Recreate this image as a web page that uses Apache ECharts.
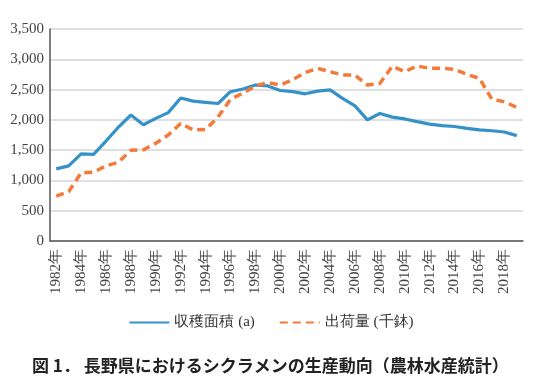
<!DOCTYPE html>
<html><head><meta charset="utf-8">
<script src="https://cdn.jsdelivr.net/npm/echarts@6/dist/echarts.min.js"></script>
<style>html,body{margin:0;padding:0;background:#fff}#c{width:542px;height:381px}</style>
</head><body><div id="c"></div>
<script>
const years = ['1982年','1983年','1984年','1985年','1986年','1987年','1988年','1989年','1990年','1991年','1992年','1993年','1994年','1995年','1996年','1997年','1998年','1999年','2000年','2001年','2002年','2003年','2004年','2005年','2006年','2007年','2008年','2009年','2010年','2011年','2012年','2013年','2014年','2015年','2016年','2017年','2018年','2019年'];
const area = [1190,1240,1440,1430,1650,1880,2080,1920,2025,2120,2360,2310,2290,2270,2465,2510,2575,2560,2485,2465,2430,2475,2495,2355,2230,2000,2105,2045,2015,1970,1930,1905,1890,1860,1835,1820,1800,1740];
const shipment = [740,815,1125,1135,1240,1300,1500,1505,1615,1750,1940,1835,1840,2045,2340,2440,2560,2615,2575,2665,2780,2850,2795,2740,2740,2575,2600,2885,2795,2890,2850,2850,2835,2750,2685,2340,2300,2205];
const yTicks = {min:0, max:3500, interval:500};
const names = ['収穫面積 (a)','出荷量 (千鉢)'];
const caption = '図 1． 長野県におけるシクラメンの生産動向（農林水産統計）';

const chart = echarts.init(document.getElementById('c'), null, {renderer:'canvas'});
const serif = "Liberation Serif";
chart.setOption({
  animation:false,
  backgroundColor:'#fff',
  title:{text:caption,left:27,top:352,textStyle:{fontFamily:"Noto Sans CJK JP",fontSize:17,fontWeight:'bold',color:'#222'}},
  grid:{left:50,right:19,top:29,bottom:140},
  legend:{bottom:46,left:'center',itemGap:24,itemWidth:40,itemHeight:2,
    itemStyle:{opacity:0,borderWidth:0},
    textStyle:{fontFamily:serif,fontSize:15,color:'#333'},data:names},
  xAxis:{type:'category',data:years,boundaryGap:true,
    axisLine:{lineStyle:{color:'#555',width:1.5}},axisTick:{show:false},
    axisLabel:{rotate:90,interval:1,fontFamily:serif,fontSize:15,color:'#444',margin:8}},
  yAxis:{type:'value',min:yTicks.min,max:yTicks.max,interval:yTicks.interval,
    axisLine:{show:true,lineStyle:{color:'#555',width:1.5}},axisTick:{show:false},
    splitLine:{lineStyle:{color:'#d6d6d6',width:1.5}},
    axisLabel:{fontFamily:serif,fontSize:15,color:'#444',margin:6,
      formatter:v=>v.toLocaleString('en-US')}},
  series:[
    {name:names[0],type:'line',data:area,symbol:'none',
      lineStyle:{color:'#3592c8',width:3.2},itemStyle:{color:'#3592c8'}},
    {name:names[1],type:'line',data:shipment,symbol:'none',
      lineStyle:{color:'#f27b3b',width:3.5,type:[8,5]},itemStyle:{color:'#f27b3b'}}
  ]
});
</script></body></html>
